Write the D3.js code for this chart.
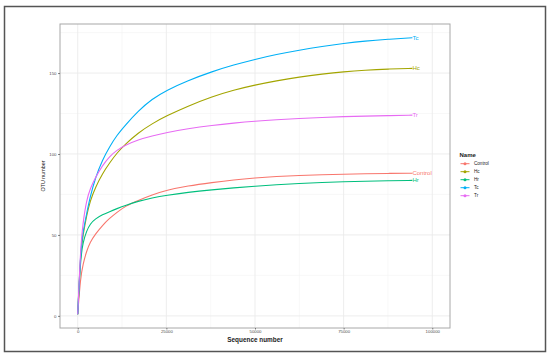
<!DOCTYPE html>
<html><head><meta charset="utf-8">
<script src="https://cdn.jsdelivr.net/npm/d3@7/dist/d3.min.js"></script>
<style>body{margin:0;background:#fff}svg{display:block;font-family:"Liberation Sans",Arial,sans-serif}</style>
</head><body><svg id="c" width="550" height="358"></svg>
<script>
const seqDepth = [0, 800, 1500, 2500, 3500, 5000, 7000, 9000, 11000, 13500, 17000, 21000, 25000, 31000, 38000, 44000, 50000, 56000, 62500, 69000, 75000, 81000, 87500, 94400];
const Control = [1, 24, 32, 40, 45.5, 50.6, 56, 60.3, 63.9, 67.9, 71.3, 74.8, 77.6, 80.3, 82.4, 84, 85.2, 86.1, 86.8, 87.2, 87.5, 87.8, 88, 88.1];
const Hc = [1, 39, 50, 62, 71, 79.5, 88, 94.5, 100.5, 106.2, 113, 118.8, 123.5, 129.5, 135.5, 139.5, 142.6, 145.2, 147.6, 149.4, 150.8, 151.8, 152.5, 152.9];
const Hr = [1, 36, 45.5, 52.5, 56.8, 60, 62.5, 64.4, 66.2, 68.3, 70.8, 72.9, 74.5, 76.3, 77.9, 79.1, 80.1, 81, 81.8, 82.4, 82.9, 83.2, 83.5, 83.7];
const Tc = [1, 40, 52, 63, 73.5, 85.5, 96.5, 104.5, 111.5, 118, 126.5, 134, 139.3, 145.3, 151, 155, 158.5, 161.5, 164.2, 166.5, 168.3, 169.8, 170.9, 171.8];
const Tr = [1, 42, 58, 71.5, 78.5, 85.5, 93, 98.5, 102.3, 105.5, 108.8, 111.2, 113.2, 115.6, 117.7, 119.1, 120.3, 121.2, 122, 122.6, 123.1, 123.4, 123.7, 124];
const seriesNames = ["Control", "Hc", "Hr", "Tc", "Tr"];
const seriesColors = ["#F8766D", "#A3A500", "#00BF7D", "#00B0F6", "#E76BF3"];
const xTicks = [0, 25000, 50000, 75000, 100000];
const xMinor = [12500, 37500, 62500, 87500];
const yTicks = [0, 50, 100, 150];
const yMinor = [25, 75, 125, 175];

const seriesValues = [Control, Hc, Hr, Tc, Tr];
const svg = d3.select("#c");
const P = {l: 60, r: 450, t: 24, b: 328};
const x = d3.scaleLinear().domain([-5000, 105000]).range([P.l, P.r]);
const y = d3.scaleLinear().domain([-7.5, 180.3]).range([P.b, P.t]);

// outer frame
svg.append("rect").attr("x", 4.5).attr("y", 6.5).attr("width", 541).attr("height", 345)
  .attr("fill", "#fff").attr("stroke", "#555").attr("stroke-width", 1.5);

// panel
svg.append("rect").attr("x", P.l).attr("y", P.t).attr("width", P.r - P.l).attr("height", P.b - P.t).attr("fill", "#fff");
const g = svg.append("g");
g.selectAll(".gxm").data(xMinor).join("line").attr("x1", d => x(d)).attr("x2", d => x(d)).attr("y1", P.t).attr("y2", P.b).attr("stroke", "#f4f4f4").attr("stroke-width", 0.6);
g.selectAll(".gym").data(yMinor).join("line").attr("y1", d => y(d)).attr("y2", d => y(d)).attr("x1", P.l).attr("x2", P.r).attr("stroke", "#f4f4f4").attr("stroke-width", 0.6);
g.selectAll(".gx").data(xTicks).join("line").attr("x1", d => x(d)).attr("x2", d => x(d)).attr("y1", P.t).attr("y2", P.b).attr("stroke", "#ebebeb").attr("stroke-width", 0.9);
g.selectAll(".gy").data(yTicks).join("line").attr("y1", d => y(d)).attr("y2", d => y(d)).attr("x1", P.l).attr("x2", P.r).attr("stroke", "#ebebeb").attr("stroke-width", 0.9);

// lines
const line = d3.line().x((d, i) => x(seqDepth[i])).y(d => y(d)).curve(d3.curveBasis);
seriesValues.forEach((vals, si) => {
  svg.append("path").attr("d", line(vals)).attr("fill", "none").attr("stroke", seriesColors[si]).attr("stroke-width", 1.1);
  svg.append("text").attr("x", x(seqDepth[seqDepth.length - 1])).attr("y", y(vals[vals.length - 1]))
    .attr("dy", "0.35em").attr("font-size", 6).attr("fill", seriesColors[si]).text(seriesNames[si]);
});

// panel border
svg.append("rect").attr("x", P.l).attr("y", P.t).attr("width", P.r - P.l).attr("height", P.b - P.t)
  .attr("fill", "none").attr("stroke", "#a8a8a8").attr("stroke-width", 1);

// axes
const xAxis = d3.axisBottom(x).tickValues(xTicks).tickSize(1.5).tickPadding(0.8).tickFormat(d3.format("d"));
const xa = svg.append("g").attr("transform", `translate(0,${P.b})`).call(xAxis);
const yAxis = d3.axisLeft(y).tickValues(yTicks).tickSize(2).tickPadding(1.5).tickFormat(d3.format("d"));
const ya = svg.append("g").attr("transform", `translate(${P.l},0)`).call(yAxis);
[xa, ya].forEach(a => {
  a.select(".domain").remove();
  a.selectAll(".tick line").attr("stroke", "#333").attr("stroke-width", 0.6);
  a.selectAll(".tick text").attr("fill", "#4d4d4d").attr("font-size", 4.3).attr("font-family", "Liberation Sans, Arial, sans-serif");
});

svg.append("text").attr("x", (P.l + P.r) / 2).attr("y", 341.5).attr("text-anchor", "middle")
  .attr("font-size", 6.4).attr("font-weight", "bold").attr("fill", "#222").text("Sequence number");
svg.append("text").attr("transform", `translate(45,${(P.t + P.b) / 2}) rotate(-90)`).attr("text-anchor", "middle")
  .attr("font-size", 5.4).attr("fill", "#222").text("OTU number");

// legend
const lg = svg.append("g");
lg.append("text").attr("x", 459.5).attr("y", 156.5).attr("font-size", 6).attr("font-weight", "bold").attr("fill", "#222").text("Name");
seriesNames.forEach((n, i) => {
  const yy = 163.7 + i * 8;
  lg.append("line").attr("x1", 460.5).attr("x2", 469.5).attr("y1", yy).attr("y2", yy).attr("stroke", seriesColors[i]).attr("stroke-width", 1);
  lg.append("circle").attr("cx", 465).attr("cy", yy).attr("r", 1.5).attr("fill", seriesColors[i]);
  lg.append("text").attr("x", 474).attr("y", yy).attr("dy", "0.35em").attr("font-size", 4.6).attr("fill", "#222").text(n);
});
</script></body></html>
